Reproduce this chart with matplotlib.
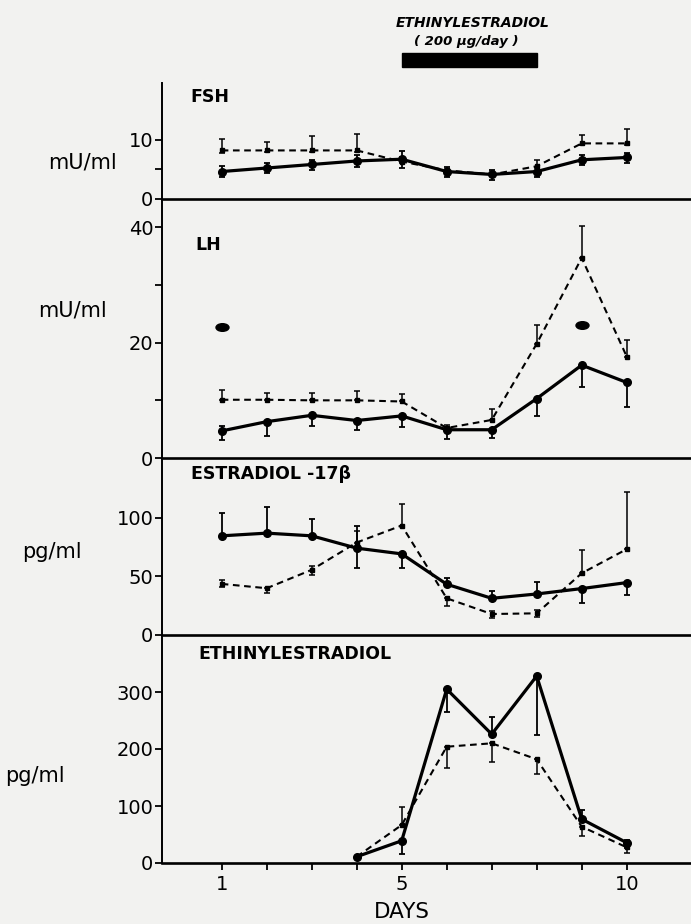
import matplotlib
matplotlib.use('Agg')
import matplotlib.pyplot as plt
from matplotlib.markers import MarkerStyle
from matplotlib.transforms import Affine2D, blended_transform_factory
from matplotlib.patches import Rectangle

# ---------------- data ----------------
days = [1, 2, 3, 4, 5, 6, 7, 8, 9, 10]
ee_days = [4, 5, 6, 7, 8, 9, 10]

fsh_solid = [4.6, 5.2, 5.8, 6.4, 6.7, 4.6, 4.1, 4.6, 6.6, 7.0]
fsh_solid_lo = [1.0, 0.9, 0.9, 1.1, 1.5, 0.9, 0.9, 0.9, 0.9, 1.0]
fsh_solid_hi = [1.0, 0.9, 0.8, 1.1, 1.4, 0.8, 0.7, 0.8, 0.8, 0.8]
fsh_dash = [8.2, 8.2, 8.2, 8.2, 6.3, 4.8, 4.1, 5.5, 9.4, 9.4]
fsh_dash_lo = [0.4, 0.3, 0.3, 0.3, 0.3, 0.2, 0.2, 0.3, 0.3, 0.3]
fsh_dash_hi = [1.9, 1.5, 2.5, 2.8, 0.8, 0.3, 0.3, 1.1, 1.4, 2.4]

lh_solid = [4.7, 6.3, 7.4, 6.5, 7.3, 4.9, 4.9, 10.3, 16.1, 13.1]
lh_solid_lo = [1.6, 2.4, 1.8, 1.6, 2.0, 1.6, 1.5, 3.0, 3.8, 4.2]
lh_solid_hi = [0.8, 0.0, 0.0, 0.0, 0.0, 0.0, 0.0, 0.0, 0.0, 0.0]
lh_dash = [10.1, 10.1, 10.0, 10.0, 9.8, 5.2, 6.6, 19.8, 34.7, 17.6]
lh_dash_lo = [0.0, 0.0, 0.0, 0.0, 0.0, 0.0, 0.0, 0.0, 0.0, 0.0]
lh_dash_hi = [1.7, 1.2, 1.3, 1.7, 1.3, 0.5, 1.9, 3.3, 5.6, 2.9]
lh_sig_days = [1, 9]
lh_sig_vals = [22.8, 23.0]

e2_solid = [84.6, 86.9, 84.6, 74.1, 69.2, 43.3, 31.3, 35.0, 39.6, 44.7]
e2_solid_lo = [0, 0, 0, 17, 12, 0, 0, 0, 12.5, 11]
e2_solid_hi = [19.4, 22, 14.5, 18.5, 0, 5, 6, 10.6, 0, 0]
e2_dash = [43.6, 39.9, 55.6, 78.9, 93.4, 31.3, 17.9, 18.5, 52.7, 73.2]
e2_dash_lo = [3, 4, 4, 0, 0, 6.5, 3, 3, 0, 0]
e2_dash_hi = [3, 0, 3, 10, 18.3, 0, 3, 3, 20, 48.8]

ee_solid = [11, 39, 305, 226, 328, 77, 35.6]
ee_solid_lo = [0, 23, 40, 0, 103, 0, 10]
ee_solid_hi = [0, 0, 0, 30, 0, 16, 5]
ee_dash = [11, 66.7, 204, 210, 182, 63.7, 27.5]
ee_dash_lo = [0, 0, 37, 33, 25, 16, 10]
ee_dash_hi = [0, 32, 0, 0, 0, 0, 0]

treatment = [5, 8]

panel_names = ['FSH', 'LH', 'ESTRADIOL -17β', 'ETHINYLESTRADIOL']
units = ['mU/ml', 'mU/ml', 'pg/ml', 'pg/ml']
ylims = [19.7, 45, 151, 400]
yticks_major = [[0, 10], [0, 20, 40], [0, 50, 100], [0, 100, 200, 300]]
yticks_minor = [[5], [10, 30], [], []]
xtick_labels = ['1', '', '', '', '5', '', '', '', '', '10']

# ---------------- layout ----------------
W, H = 691, 924
bg = '#f2f2f0'
fig = plt.figure(figsize=(W / 100, H / 100), dpi=100, facecolor=bg)
plt.rcParams['font.family'] = ['DejaVu Sans']

left_px = 161.7
bounds = [(83, 198.5), (198.5, 458), (458, 635), (635, 863)]
axes = []
for (t, b) in bounds:
    ax = fig.add_axes([left_px / W, 1 - b / H, 1 - left_px / W, (b - t) / H])
    ax.set_facecolor('none')
    axes.append(ax)

def draw(ax, x, y, lo, hi, solid):
    if solid:
        ax.errorbar(x, y, yerr=[lo, hi], fmt='-o', color='k', lw=2.3, ms=5.5,
                    elinewidth=1.3, capsize=2.5, capthick=1.3, zorder=3)
    else:
        ax.errorbar(x, y, yerr=[lo, hi], fmt='--s', color='k', lw=1.5, ms=3.2,
                    dashes=(3.2, 2.2), elinewidth=1.1, capsize=2.5, capthick=1.1,
                    zorder=2)

draw(axes[0], days, fsh_solid, fsh_solid_lo, fsh_solid_hi, True)
draw(axes[0], days, fsh_dash, fsh_dash_lo, fsh_dash_hi, False)
draw(axes[1], days, lh_solid, lh_solid_lo, lh_solid_hi, True)
draw(axes[1], days, lh_dash, lh_dash_lo, lh_dash_hi, False)
sig_marker = MarkerStyle('o', transform=Affine2D().scale(1.7, 1.0))
axes[1].plot(lh_sig_days, lh_sig_vals, ls='none', marker=sig_marker, ms=5.5, color='k')
draw(axes[2], days, e2_solid, e2_solid_lo, e2_solid_hi, True)
draw(axes[2], days, e2_dash, e2_dash_lo, e2_dash_hi, False)
draw(axes[3], ee_days, ee_solid, ee_solid_lo, ee_solid_hi, True)
draw(axes[3], ee_days, ee_dash, ee_dash_lo, ee_dash_hi, False)

xl = (1 - (221.7 - left_px) / 45.0, 1 + (W - 221.7) / 45.0)
for i, ax in enumerate(axes):
    ax.set_xlim(*xl)
    ax.set_ylim(0, ylims[i])
    ax.spines['top'].set_visible(False)
    ax.spines['right'].set_visible(False)
    ax.spines['left'].set_linewidth(1.4)
    ax.spines['bottom'].set_linewidth(1.9)
    ax.set_yticks(yticks_major[i])
    ax.set_yticklabels([str(v) for v in yticks_major[i]], fontsize=14)
    ax.set_yticks(yticks_minor[i], minor=True)
    ax.tick_params(axis='y', which='both', direction='out', length=5, width=1.3, pad=1)
    if i < 3:
        ax.set_xticks([])
    else:
        ax.set_xticks(days)
        ax.set_xticklabels(xtick_labels, fontsize=14)
        ax.tick_params(axis='x', direction='out', length=5, width=1.3, pad=4)

# panel titles
title_pos = [(190, 97.5), (195, 245), (191, 474), (198, 654)]
for name, (x, y) in zip(panel_names, title_pos):
    fig.text(x / W, 1 - y / H, name, fontsize=12.5, fontweight='bold',
             ha='left', va='center')

# unit labels
unit_pos = [(82, 163), (72, 310), (52, 552), (35, 776)]
for u, (x, y) in zip(units, unit_pos):
    fig.text(x / W, 1 - y / H, u, fontsize=15, ha='center', va='center')

fig.text(402 / W, 1 - 912 / H, 'DAYS', fontsize=15.5, ha='center', va='center')

# treatment bar and header
tr = blended_transform_factory(axes[0].transData, fig.transFigure)
bar = Rectangle((treatment[0], 1 - 67 / H), treatment[1] - treatment[0], 14 / H,
                transform=tr, color='k', clip_on=False)
fig.add_artist(bar)
fig.text(473 / W, 1 - 23 / H, 'ETHINYLESTRADIOL', fontsize=10, fontweight='bold',
         fontstyle='italic', ha='center', va='center')
fig.text(466 / W, 1 - 41 / H, '( 200 µg/day )', fontsize=9.5, fontweight='bold',
         fontstyle='italic', ha='center', va='center')

fig.savefig('out.png', dpi=100, facecolor=bg)
